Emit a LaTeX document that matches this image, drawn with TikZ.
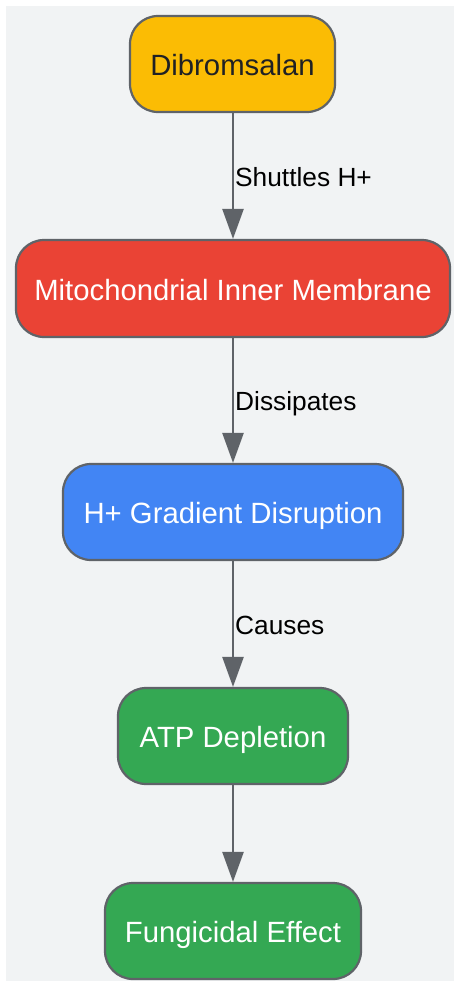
\documentclass[tikz,border=0pt]{standalone}
\usepackage{fontspec}
\setmainfont{Liberation Sans}
\usetikzlibrary{arrows.meta}
\definecolor{bgc}{HTML}{F1F3F4}
\definecolor{edgec}{HTML}{5F6368}
\definecolor{yel}{HTML}{FBBC04}
\definecolor{redc}{HTML}{EA4335}
\definecolor{bluec}{HTML}{4285F4}
\definecolor{grn}{HTML}{34A853}
\definecolor{darktext}{HTML}{202124}
\tikzset{
  box/.style={draw=edgec, line width=2.2pt, rounded corners=28pt, inner sep=0pt,
    minimum height=96pt, font=\fontsize{29.3}{34}\selectfont, text=white,
    text height=25pt, text depth=1.2pt},
  conn/.style={draw=edgec, line width=2.5pt, -{Triangle[width=21pt,length=30pt]}},
  elabel/.style={anchor=base west, inner sep=0pt, font=\fontsize{26.3}{30}\selectfont, text=black}
}
\begin{document}
\begin{tikzpicture}[x=1pt,y=-1pt]
\useasboundingbox (0,0) rectangle (454,982);
\fill[bgc] (6,6) rectangle (454,981);
\node[box, fill=yel, text=darktext, minimum width=205pt] (dib) at (232.5,64) {Dibromsalan};
\node[box, fill=redc, minimum width=434pt, minimum height=97pt] (mito) at (233,288.5) {Mitochondrial Inner Membrane};
\node[box, fill=bluec, minimum width=340pt] (grad) at (233,512) {H+ Gradient Disruption};
\node[box, fill=grn, minimum width=230pt] (atp) at (233,736) {ATP Depletion};
\node[box, fill=grn, minimum width=256pt] (fung) at (233,931) {Fungicidal Effect};
\draw[conn] (dib.south -| 233,0) -- (mito.north -| 233,0);
\draw[conn] (mito) -- (grad);
\draw[conn] (grad) -- (atp);
\draw[conn] (atp) -- (fung);
\node[elabel] (l1) at (235,186) {Shuttles H+};
\node[elabel] (l2) at (235,410) {Dissipates};
\node[elabel] (l3) at (235,634) {Causes};
\end{tikzpicture}
\end{document}
